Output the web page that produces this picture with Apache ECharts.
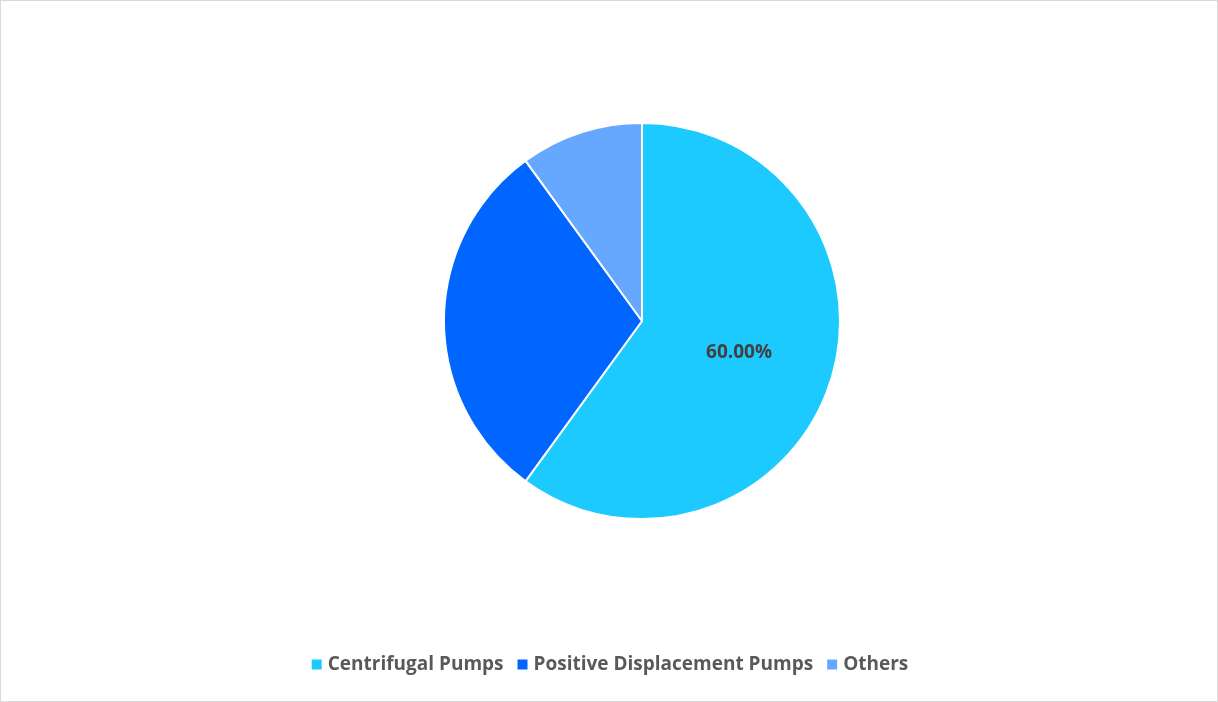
<!DOCTYPE html>
<html>
<head>
<meta charset="utf-8">
<script src="https://cdn.jsdelivr.net/npm/echarts@6/dist/echarts.min.js"></script>
<style>
  html, body { margin: 0; padding: 0; background: #fff; }
  #chart { width: 1216px; height: 700px; border: 1px solid #d9d9d9; }
</style>
</head>
<body>
<div id="chart"></div>
<script>
var categories = ['Centrifugal Pumps', 'Positive Displacement Pumps', 'Others'];
var shares = [60, 30, 10];
var colors = ['#1DCAFF', '#0066FF', '#66A8FF'];
var labelShown = [true, false, false];

var chart = echarts.init(document.getElementById('chart'));
var pieData = categories.map(function (name, i) {
    return {
        name: name,
        value: shares[i],
        itemStyle: { color: colors[i] },
        label: { show: labelShown[i] }
    };
});

var option = {
    animation: false,
    legend: {
        bottom: 22,
        left: 'center',
        itemWidth: 12,
        itemHeight: 12,
        itemGap: 12,
        icon: 'rect',
        textStyle: { color: '#595959', fontSize: 19, fontWeight: 'bold', fontFamily: 'Open Sans' },
        data: categories
    },
    series: [
        {
            type: 'pie',
            center: [641, 320],
            radius: [0, 198],
            startAngle: 90,
            clockwise: true,
            itemStyle: { borderColor: '#fff', borderWidth: 2 },
            label: {
                position: 'inside',
                formatter: function (p) { return p.value.toFixed(2) + '%'; },
                color: '#404040',
                fontSize: 19,
                fontWeight: 'bold',
                fontFamily: 'Open Sans'
            },
            labelLine: { show: false },
            data: pieData
        }
    ]
};
chart.setOption(option);
</script>
</body>
</html>
